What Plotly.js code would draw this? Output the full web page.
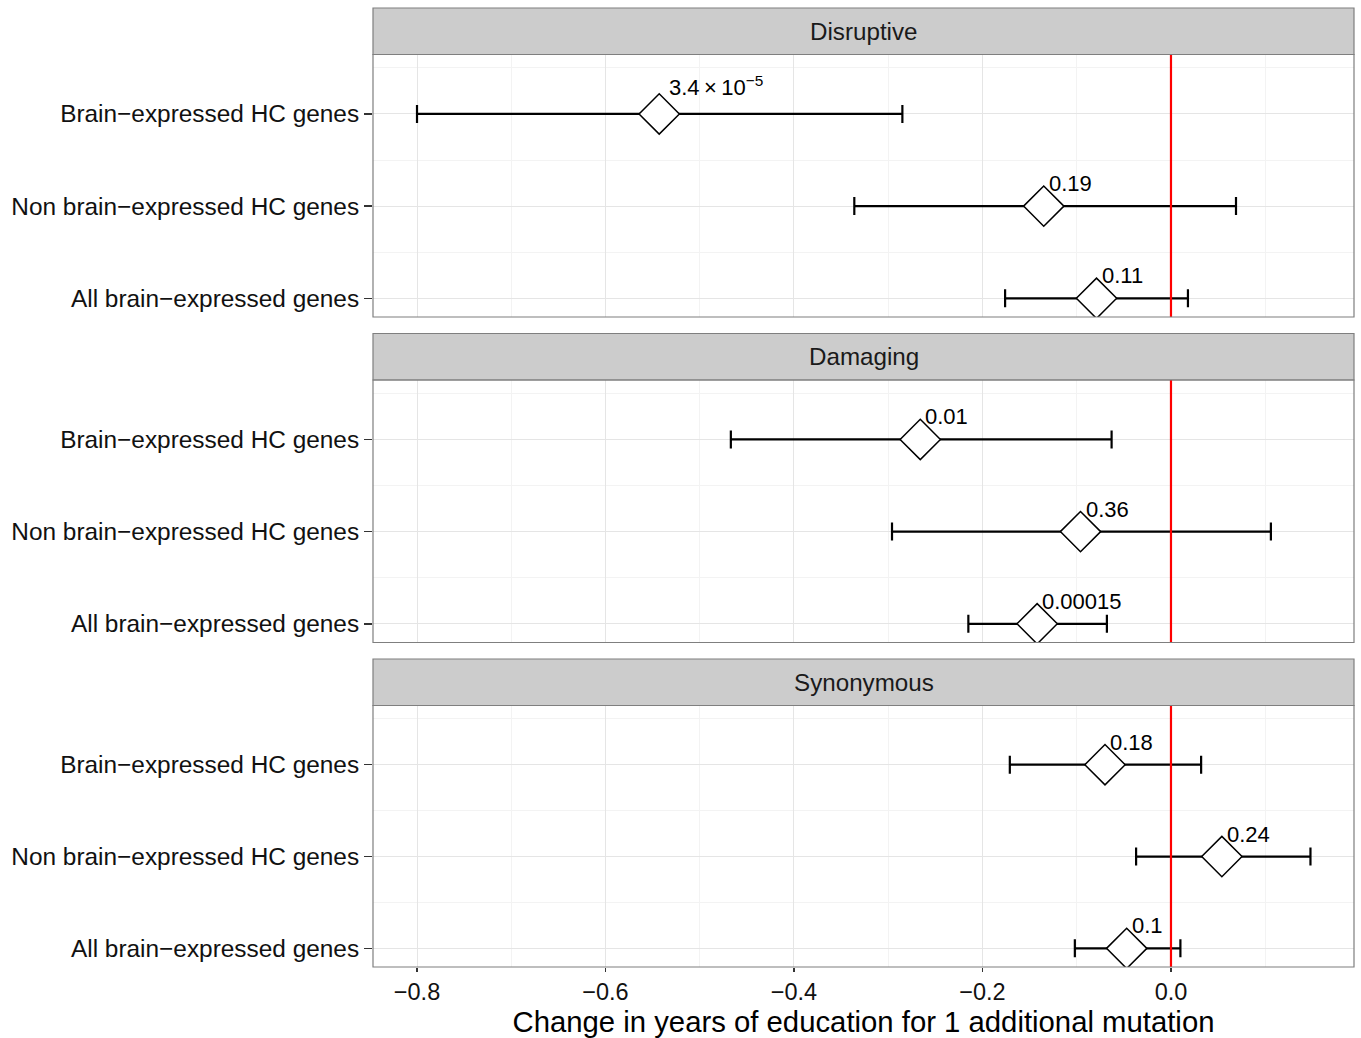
<!DOCTYPE html>
<html><head><meta charset="utf-8">
<script src="https://cdn.plot.ly/plotly-3.0.1.min.js"></script>
<style>html,body{margin:0;padding:0;background:#fff}#chart{width:1361px;height:1038px}</style>
</head><body><div id="chart"></div>
<script>
// ---- data ----
const panels = ['Disruptive', 'Damaging', 'Synonymous'];
const categories = ['Brain−expressed HC genes', 'Non brain−expressed HC genes', 'All brain−expressed genes'];

const disruptiveEst  = [-0.543, -0.135, -0.079];
const disruptiveLow  = [-0.800, -0.336, -0.176];
const disruptiveHigh = [-0.285,  0.069,  0.018];
const disruptiveP    = ['3.4\u2009×\u200910<sup>−5</sup>', '0.19', '0.11'];

const damagingEst  = [-0.266, -0.096, -0.142];
const damagingLow  = [-0.467, -0.296, -0.215];
const damagingHigh = [-0.063,  0.106, -0.068];
const damagingP    = ['0.01', '0.36', '0.00015'];

const synonymousEst  = [-0.070,  0.054, -0.047];
const synonymousLow  = [-0.171, -0.037, -0.102];
const synonymousHigh = [ 0.032,  0.148,  0.010];
const synonymousP    = ['0.18', '0.24', '0.1'];

const xTickVals = [-0.8, -0.6, -0.4, -0.2, 0.0];
const xTickText = ['−0.8', '−0.6', '−0.4', '−0.2', '0.0'];
const xMinorVals = [-0.7, -0.5, -0.3, -0.1, 0.1];
const xTitle = 'Change in years of education for 1 additional mutation';

// ---- build ----
const est = [disruptiveEst, damagingEst, synonymousEst];
const low = [disruptiveLow, damagingLow, synonymousLow];
const high = [disruptiveHigh, damagingHigh, synonymousHigh];
const pv = [disruptiveP, damagingP, synonymousP];

const FONT = 'Liberation Sans, Arial, Helvetica, sans-serif';
const W = 1361, H = 1038;
const mT = 8, mB = 71, mL = 373, mR = 7;
const plotH = H - mT - mB;
const stripH = 46.5, panelH = 262.5, gapH = 16.5;
const rowVals = categories.map((c, i) => categories.length - i);
const yRange = [0.797, 3.645];

function pyToPaper(py) { return (H - mB - py) / plotH; }

const traces = [];
const shapes = [];
const annotations = [];
const layout = {
  width: W, height: H,
  margin: {l: mL, r: mR, t: mT, b: mB, pad: 0},
  paper_bgcolor: '#fff', plot_bgcolor: '#fff',
  showlegend: false,
  font: {family: FONT, size: 24, color: '#1a1a1a'},
  xaxis: {
    range: [-0.8467, 0.1942], anchor: 'y3',
    tickmode: 'array', tickvals: xTickVals, ticktext: xTickText,
    ticks: 'outside', ticklen: 4, tickwidth: 1.2, tickcolor: '#333',
    tickfont: {family: FONT, size: 23.5, color: '#111'},
    showgrid: true, gridcolor: '#E5E5E5', gridwidth: 1,
    minor: {tickmode: 'array', tickvals: xMinorVals, showgrid: true, gridcolor: '#F3F3F3', gridwidth: 1, ticks: ''},
    zeroline: false, showline: false,
    title: {text: xTitle, font: {family: FONT, size: 29.3, color: '#000'}, standoff: 4},
    automargin: false
  },
  shapes: shapes,
  annotations: annotations
};

panels.forEach((name, k) => {
  const stripTop = mT + k * (stripH + panelH + gapH);
  const panTop = stripTop + stripH;
  const panBot = panTop + panelH;
  const ya = k === 0 ? 'yaxis' : 'yaxis' + (k + 1);
  const yref = k === 0 ? 'y' : 'y' + (k + 1);
  layout[ya] = {
    domain: [pyToPaper(panBot), pyToPaper(panTop)],
    range: yRange, anchor: 'x',
    tickmode: 'array', tickvals: rowVals, ticktext: categories,
    ticks: 'outside', ticklen: 8, tickwidth: 1.5, tickcolor: '#333',
    tickfont: {family: FONT, size: 24.4, color: '#111'},
    showgrid: true, gridcolor: '#E5E5E5', gridwidth: 1,
    minor: {tickmode: 'array', tickvals: [1.5, 2.5, 3.5], showgrid: true, gridcolor: '#F3F3F3', gridwidth: 1, ticks: ''},
    zeroline: false, showline: false, automargin: false
  };
  // strip
  shapes.push({type: 'rect', xref: 'paper', yref: 'paper', x0: 0, x1: 1,
    y0: pyToPaper(panTop), y1: pyToPaper(stripTop),
    fillcolor: '#CCCCCC', line: {color: '#7F7F7F', width: 1.2}, layer: 'above'});
  annotations.push({xref: 'paper', yref: 'paper', x: 0.5, y: pyToPaper(stripTop + stripH / 2),
    text: name, showarrow: false, xanchor: 'center', yanchor: 'middle',
    font: {family: FONT, size: 24.2, color: '#1a1a1a'}});
  // red zero line
  shapes.push({type: 'line', xref: 'x', yref: yref + ' domain', x0: 0, x1: 0, y0: 0, y1: 1,
    line: {color: '#FF0000', width: 2.2}, layer: 'above'});
  // panel border
  shapes.push({type: 'rect', xref: 'paper', yref: yref + ' domain', x0: 0, x1: 1, y0: 0, y1: 1,
    fillcolor: 'rgba(0,0,0,0)', line: {color: '#7F7F7F', width: 1.2}, layer: 'above'});

  const e = est[k], lo = low[k], hi = high[k];
  traces.push({
    type: 'scatter', mode: 'markers', xaxis: 'x', yaxis: yref,
    x: e, y: rowVals,
    error_x: {type: 'data', symmetric: false,
      array: e.map((v, i) => hi[i] - v), arrayminus: e.map((v, i) => v - lo[i]),
      color: '#000', thickness: 2.2, width: 9},
    marker: {symbol: 'diamond', size: 31, color: '#fff', line: {color: '#000', width: 1.5}},
    cliponaxis: true, hoverinfo: 'skip'
  });
  e.forEach((v, i) => {
    const isSup = pv[k][i].indexOf('<sup>') >= 0;
    annotations.push({xref: 'x', yref: yref, x: v, y: rowVals[i], text: pv[k][i],
      showarrow: false, xanchor: 'left', yanchor: 'bottom',
      xshift: isSup ? 8 : 3, yshift: isSup ? 12 : 8,
      font: {family: FONT, size: 22, color: '#000'}});
  });
});

Plotly.newPlot('chart', traces, layout, {displayModeBar: false, staticPlot: true});
</script>
</body></html>
